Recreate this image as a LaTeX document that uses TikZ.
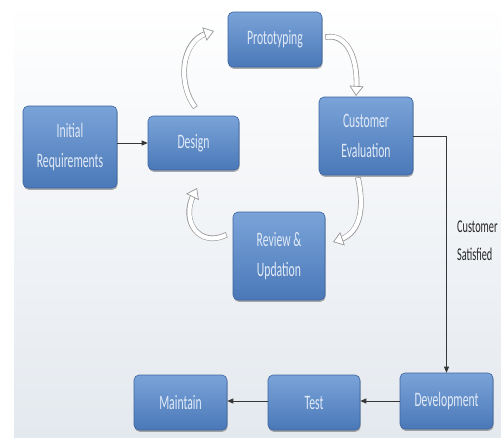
\documentclass[tikz,border=0pt]{standalone}
\usepackage{fontspec}
\newfontfamily\boxfont[FakeStretch=0.57]{Carlito}
\usetikzlibrary{arrows.meta,shadows,calc}
\definecolor{boxtop}{RGB}{122,163,216}
\definecolor{boxbot}{RGB}{74,120,184}
\definecolor{boxedge}{RGB}{60,100,160}
\definecolor{boxtext}{RGB}{225,234,247}
\definecolor{arrowgray}{RGB}{150,150,150}
\definecolor{linegray}{RGB}{55,55,55}
\definecolor{bgbot}{RGB}{228,233,239}
\begin{document}
\begin{tikzpicture}[x=1pt,y=-1pt,
  box/.style={rounded corners=5pt, draw=boxedge, line width=0.6pt,
    top color=boxtop, bottom color=boxbot, text=boxtext, align=center,
    inner sep=0pt, font=\boxfont\fontsize{20.5}{30}\selectfont,
    drop shadow={shadow xshift=0.6pt, shadow yshift=-1.8pt, opacity=0.45, fill=black!70}},
  conn/.style={draw=linegray, line width=0.8pt, -{Triangle[length=6pt,width=5pt]}},
  blockarrow/.style={draw=white, line width=0.5pt,
    -{Triangle[length=10pt,width=14pt,fill=white,color=arrowgray,line width=0.7pt]},
    preaction={draw=arrowgray, line width=5.6pt, -, shorten <=-0.7pt, shorten >=8pt},
    preaction={draw=white, line width=4.2pt, -, shorten >=7pt}},
  lbl/.style={font=\boxfont\fontsize{18}{28}\selectfont, text=black!85, align=left, inner sep=0pt}
]
\useasboundingbox (0,0) rectangle (501,437);
\fill[white] (0,0) rectangle (501,437);
\shade[top color=white, bottom color=bgbot] (14,0) rectangle (501,437);

\node[box, minimum width=94pt, minimum height=82pt] (init) at (70,147) {Initial\\Requirements};
\node[box, minimum width=91pt, minimum height=54pt] (design) at (193.5,143) {Design};
\node[box, minimum width=94pt, minimum height=55pt] (proto) at (275,39.5) {Prototyping};
\node[box, minimum width=94pt, minimum height=78pt] (cust) at (366,136) {Customer\\Evaluation};
\node[box, minimum width=92pt, minimum height=88pt] (review) at (279,256) {Review \&\\Updation};
\node[box, minimum width=93pt, minimum height=55pt] (maintain) at (180.5,402.5) {Maintain};
\node[box, minimum width=92pt, minimum height=55pt] (test) at (314,402.5) {Test};
\node[box, minimum width=93pt, minimum height=56pt] (dev) at (446.5,401) {Development};

\node[lbl, anchor=west] (sat) at (457,241) {Customer\\Satisfied};

\draw[conn] (init.east |- design.west) -- (design.west);
\draw[conn] (cust.east) -| (dev.north);
\draw[conn] (dev.west) -- (dev.west -| test.east);
\draw[conn] (test.west |- dev.west) -- (test.west |- dev.west -| maintain.east);

\coordinate (a1s) at (195,107);
\coordinate (a1e) at (214,31);
\draw[blockarrow] (a1s) .. controls (178,85) and (180,42) .. (a1e);
\coordinate (a2s) at (326,37);
\coordinate (a2e) at (356,96);
\draw[blockarrow] (a2s) .. controls (348,33) and (358,60) .. (a2e);
\coordinate (a3s) at (358,178);
\coordinate (a3e) at (333,242);
\draw[blockarrow] (a3s) .. controls (364,205) and (362,232) .. (a3e);
\coordinate (a4s) at (226,235);
\coordinate (a4e) at (197,188);
\draw[blockarrow] (a4s) .. controls (200,248) and (180,222) .. (a4e);
\end{tikzpicture}
\end{document}
